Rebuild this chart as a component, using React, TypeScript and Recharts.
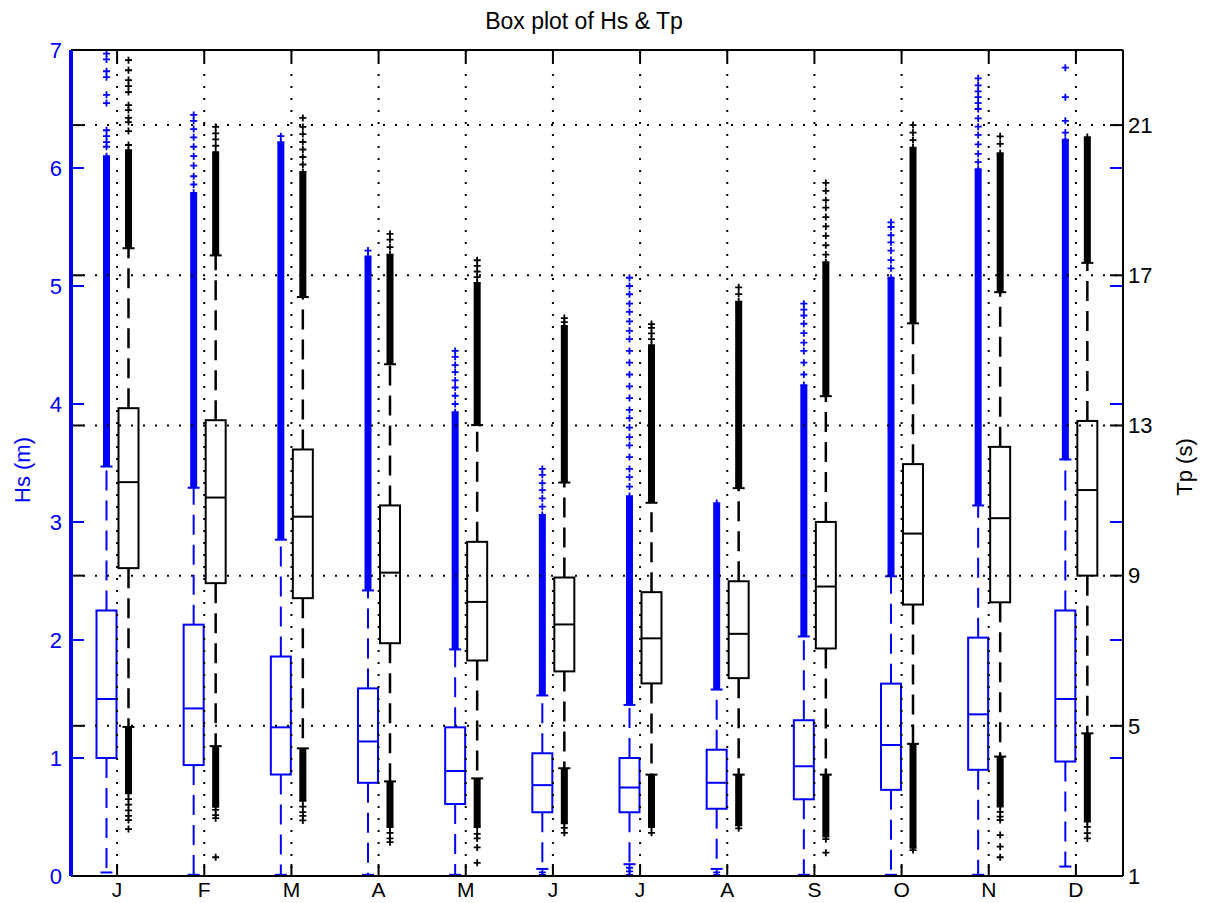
import { ComposedChart, Bar, XAxis, YAxis, ReferenceLine } from 'recharts'

const BLUE = '#0000ff'
const BLACK = '#000000'

const months = ['Jan', 'Feb', 'Mar', 'Apr', 'May', 'Jun', 'Jul', 'Aug', 'Sep', 'Oct', 'Nov', 'Dec']
const monthLetters = ['J', 'F', 'M', 'A', 'M', 'J', 'J', 'A', 'S', 'O', 'N', 'D']

const hsTicks = [0, 1, 2, 3, 4, 5, 6, 7]
const tpTicks = [1, 5, 9, 13, 17, 21]

// Hs (m) box statistics per month
const hsWhiskerLow = [0.03, 0.01, 0.01, 0.01, 0.01, 0.06, 0.1, 0.06, 0.01, 0.01, 0.01, 0.08]
const hsQ1 = [1.0, 0.94, 0.86, 0.79, 0.61, 0.54, 0.54, 0.57, 0.65, 0.73, 0.9, 0.97]
const hsMedian = [1.5, 1.42, 1.26, 1.14, 0.89, 0.77, 0.75, 0.79, 0.93, 1.11, 1.37, 1.5]
const hsQ3 = [2.25, 2.13, 1.86, 1.59, 1.26, 1.04, 1.0, 1.07, 1.32, 1.63, 2.02, 2.25]
const hsWhiskerHigh = [3.47, 3.29, 2.85, 2.42, 1.92, 1.53, 1.45, 1.58, 2.03, 2.54, 3.14, 3.53]
// outliers packed so tight they read as one solid run from the whisker up to here
const hsDenseTop = [6.1, 5.79, 6.22, 5.25, 3.93, 3.06, 3.22, 3.16, 4.16, 5.07, 5.99, 6.24]
const hsOutliersHigh = [
  [6.18, 6.22, 6.27, 6.32, 6.55, 6.62, 6.77, 6.82, 6.92, 6.97],
  [5.86, 5.93, 6.02, 6.1, 6.18, 6.26, 6.33, 6.4, 6.45],
  [6.27],
  [5.3],
  [4.0, 4.07, 4.14, 4.2, 4.27, 4.33, 4.4, 4.45],
  [3.13, 3.2, 3.27, 3.33, 3.4, 3.45],
  [3.3, 3.38, 3.45, 3.55, 3.65, 3.72, 3.8, 3.88, 3.95, 4.05, 4.15, 4.25, 4.35, 4.45, 4.55, 4.62, 4.7, 4.78, 4.85, 4.93, 5.0, 5.07],
  [],
  [4.25, 4.35, 4.45, 4.52, 4.6, 4.68, 4.75, 4.8, 4.85],
  [5.15, 5.22, 5.3, 5.37, 5.43, 5.5, 5.54],
  [6.05, 6.12, 6.2, 6.28, 6.35, 6.42, 6.5, 6.55, 6.6, 6.65, 6.7, 6.76],
  [6.3, 6.4, 6.6, 6.85],
]
const hsOutliersLow = [[], [], [], [], [], [0.01, 0.03], [0.01, 0.04, 0.07], [0.01, 0.03], [], [], [], []]

// Tp (s) box statistics per month
const tpWhiskerLow = [4.97, 4.46, 4.4, 3.52, 3.6, 3.87, 3.7, 3.7, 3.7, 4.52, 4.18, 4.8]
const tpQ1 = [9.2, 8.8, 8.4, 7.2, 6.74, 6.45, 6.13, 6.27, 7.06, 8.23, 8.29, 9.0]
const tpMedian = [11.49, 11.08, 10.57, 9.08, 8.3, 7.7, 7.33, 7.45, 8.71, 10.12, 10.53, 11.28]
const tpQ3 = [13.46, 13.14, 12.36, 10.87, 9.9, 8.95, 8.56, 8.85, 10.43, 11.97, 12.43, 13.12]
const tpWhiskerHigh = [17.72, 17.53, 16.42, 14.63, 13.01, 11.48, 10.94, 11.33, 13.78, 15.72, 16.55, 17.33]
const tpDenseTop = [20.33, 20.28, 19.75, 17.55, 16.8, 15.65, 15.14, 16.3, 17.35, 20.4, 20.25, 20.68]
const tpDenseBottom = [3.2, 2.84, 3.0, 2.3, 2.3, 2.4, 2.3, 2.35, 2.05, 1.75, 2.85, 2.45]
const tpOutliersHigh = [
  [20.47, 20.84, 21.08, 21.19, 21.4, 21.53, 21.88, 22.04, 22.2, 22.46, 22.73],
  [20.45, 20.62, 20.78, 20.95],
  [19.95, 20.15, 20.35, 20.55, 20.76, 20.95, 21.19],
  [17.75, 17.95, 18.1],
  [16.95, 17.1, 17.25, 17.4],
  [15.75, 15.86],
  [15.3, 15.45, 15.6, 15.7],
  [16.5, 16.68],
  [17.55, 17.8, 18.05, 18.3, 18.55, 18.8, 19.0, 19.25, 19.46],
  [20.6, 20.8, 21.0],
  [20.5, 20.7],
  [],
]
const tpOutliersLow = [
  [3.05, 2.9, 2.75, 2.6, 2.49, 2.25],
  [2.76, 2.62, 2.54, 1.5],
  [2.85, 2.7, 2.6, 2.48],
  [2.15, 2.0, 1.9],
  [2.12, 2.0, 1.76, 1.35],
  [2.28, 2.15],
  [2.15],
  [2.27],
  [1.98, 1.62],
  [1.69],
  [2.71, 2.58, 2.49, 2.09, 1.78, 1.5],
  [2.31, 2.14, 2.0],
]

interface BoxStats {
  lo: number[]
  q1: number[]
  med: number[]
  q3: number[]
  hi: number[]
  denseTop: number[]
  denseBottom: number[] | null
  outHigh: number[][]
  outLow: number[][]
}

const hsStats: BoxStats = {
  lo: hsWhiskerLow, q1: hsQ1, med: hsMedian, q3: hsQ3, hi: hsWhiskerHigh,
  denseTop: hsDenseTop, denseBottom: null, outHigh: hsOutliersHigh, outLow: hsOutliersLow,
}
const tpStats: BoxStats = {
  lo: tpWhiskerLow, q1: tpQ1, med: tpMedian, q3: tpQ3, hi: tpWhiskerHigh,
  denseTop: tpDenseTop, denseBottom: tpDenseBottom, outHigh: tpOutliersHigh, outLow: tpOutliersLow,
}

// each bar spans the full extent of its month, the shape draws the box inside it
const rows = months.map((month, i) => ({
  month,
  i,
  hs: [Math.min(hsWhiskerLow[i], ...hsOutliersLow[i]), Math.max(hsDenseTop[i], ...hsOutliersHigh[i])],
  tp: [Math.min(tpDenseBottom[i], ...tpOutliersLow[i]), Math.max(tpDenseTop[i], ...tpOutliersHigh[i])],
}))

const Plus = ({ cx, cy, color }: { cx: number; cy: number; color: string }) => (
  <path d={`M${cx - 3.5},${cy}H${cx + 3.5}M${cx},${cy - 3.5}V${cy + 3.5}`} stroke={color} strokeWidth={1.8} />
)

function makeBox(color: string, key: 'hs' | 'tp', s: BoxStats, lw: number) {
  return (props: any) => {
    const row = props.payload ?? props
    const i = row.i
    const [vMin, vMax] = row[key]
    const top = Math.min(props.y, props.y + props.height)
    const bottom = Math.max(props.y, props.y + props.height)
    const py = (v: number) => bottom - ((v - vMin) / (vMax - vMin)) * (bottom - top)
    const x = props.x
    const w = props.width
    const cx = x + w / 2
    const yHi = py(s.hi[i])
    const yLo = py(s.lo[i])
    const yQ1 = py(s.q1[i])
    const yQ3 = py(s.q3[i])
    const yMed = py(s.med[i])
    const yDenseTop = py(s.denseTop[i])
    const yDenseBottom = s.denseBottom ? py(s.denseBottom[i]) : yLo
    return (
      <g>
        <rect x={cx - 3.5} y={yDenseTop} width={7} height={Math.max(0, yHi - yDenseTop)} fill={color} />
        <Plus cx={cx} cy={yDenseTop} color={color} />
        {yDenseBottom > yLo && (
          <>
            <rect x={cx - 3.5} y={yLo} width={7} height={yDenseBottom - yLo} fill={color} />
            <Plus cx={cx} cy={yDenseBottom} color={color} />
          </>
        )}
        {s.outHigh[i].map((v, k) => <Plus key={`h${k}`} cx={cx} cy={py(v)} color={color} />)}
        {s.outLow[i].map((v, k) => <Plus key={`l${k}`} cx={cx} cy={py(v)} color={color} />)}
        <line x1={cx} x2={cx} y1={yQ3} y2={yHi} stroke={color} strokeWidth={lw} strokeDasharray="20 10" />
        <line x1={cx} x2={cx} y1={yQ1} y2={yLo} stroke={color} strokeWidth={lw} strokeDasharray="20 10" />
        <line x1={cx - 6} x2={cx + 6} y1={yHi} y2={yHi} stroke={color} strokeWidth={2} />
        <line x1={cx - 6} x2={cx + 6} y1={yLo} y2={yLo} stroke={color} strokeWidth={2} />
        <rect x={x + 1} y={yQ3} width={w - 2} height={yQ1 - yQ3} fill="none" stroke={color} strokeWidth={2} />
        <line x1={x + 1} x2={x + w - 1} y1={yMed} y2={yMed} stroke={color} strokeWidth={2} />
      </g>
    )
  }
}

// dotted horizontal grid at the Tp ticks, with black stubs on both frame edges
const tpGrid = (props: any) => {
  const a = Math.min(props.x1, props.x2)
  const b = Math.max(props.x1, props.x2)
  const y = props.y1
  return (
    <g>
      <line x1={a} x2={b} y1={y} y2={y} stroke={BLACK} strokeWidth={2} strokeDasharray="2 10" />
      <line x1={a} x2={a + 13} y1={y} y2={y} stroke={BLACK} strokeWidth={2} />
      <line x1={b - 13} x2={b} y1={y} y2={y} stroke={BLACK} strokeWidth={2} />
    </g>
  )
}

// blue Hs tick stubs on both frame edges
const hsStub = (props: any) => {
  const a = Math.min(props.x1, props.x2)
  const b = Math.max(props.x1, props.x2)
  const y = props.y1
  return (
    <g>
      <line x1={a} x2={a + 13} y1={y} y2={y} stroke={BLUE} strokeWidth={2} />
      <line x1={b - 13} x2={b} y1={y} y2={y} stroke={BLUE} strokeWidth={2} />
    </g>
  )
}

const monthGrid = (props: any) => {
  const t = Math.min(props.y1, props.y2)
  const btm = Math.max(props.y1, props.y2)
  const x = props.x1
  return (
    <g>
      <line x1={x} x2={x} y1={t} y2={btm} stroke={BLACK} strokeWidth={2} strokeDasharray="2 10" />
      <line x1={x} x2={x} y1={t} y2={t + 12} stroke={BLACK} strokeWidth={2} />
      <line x1={x} x2={x} y1={btm - 12} y2={btm} stroke={BLACK} strokeWidth={2} />
    </g>
  )
}

export default function App() {
  const font = "'Liberation Sans', Arial, Helvetica, sans-serif"
  return (
    <div style={{ position: 'absolute', left: 0, top: 0, width: 1211, height: 903, background: '#fff', fontFamily: font }}>
      <ComposedChart
        width={1211}
        height={903}
        data={rows}
        margin={{ top: 50, right: 28, bottom: 0, left: 11 }}
        barGap={0}
      >
        <XAxis
          dataKey="month"
          interval={0}
          height={27}
          padding={{ left: 2.5, right: 3.5 }}
          tickLine={false}
          tickSize={0}
          tickMargin={6}
          axisLine={{ stroke: BLACK, strokeWidth: 2 }}
          tick={{ fill: BLACK, fontSize: 21 }}
          tickFormatter={(_v: string, idx: number) => monthLetters[idx]}
        />
        <YAxis
          yAxisId="left"
          orientation="left"
          width={60}
          domain={[0, 7]}
          ticks={hsTicks}
          interval={0}
          allowDataOverflow
          tickLine={false}
          tickSize={0}
          tickMargin={9}
          axisLine={{ stroke: BLUE, strokeWidth: 4 }}
          tick={{ fill: BLUE, fontSize: 22 }}
        />
        <YAxis
          yAxisId="right"
          orientation="right"
          width={60}
          domain={[1, 23]}
          ticks={tpTicks}
          interval={0}
          allowDataOverflow
          tickLine={false}
          tickSize={0}
          tickMargin={5}
          axisLine={{ stroke: BLACK, strokeWidth: 2 }}
          tick={{ fill: BLACK, fontSize: 22 }}
        />

        {months.map((m) => (
          <ReferenceLine key={m} x={m} yAxisId="left" shape={monthGrid} />
        ))}
        {tpTicks.slice(1).map((t) => (
          <ReferenceLine key={`tp${t}`} y={t} yAxisId="right" shape={tpGrid} />
        ))}
        {hsTicks.slice(1, 7).map((h) => (
          <ReferenceLine key={`hs${h}`} y={h} yAxisId="left" shape={hsStub} />
        ))}
        <ReferenceLine y={7} yAxisId="left" stroke={BLACK} strokeWidth={2} ifOverflow="visible" />

        <Bar
          yAxisId="left"
          dataKey="hs"
          barSize={22}
          isAnimationActive={false}
          shape={makeBox(BLUE, 'hs', hsStats, 2)}
        />
        <Bar
          yAxisId="right"
          dataKey="tp"
          barSize={22}
          isAnimationActive={false}
          shape={makeBox(BLACK, 'tp', tpStats, 2.5)}
        />
      </ComposedChart>

      <svg
        width={1211}
        height={903}
        style={{ position: 'absolute', left: 0, top: 0, pointerEvents: 'none', fontFamily: font }}
      >
        <text x={584} y={29} textAnchor="middle" fontSize={23} fill={BLACK}>
          Box plot of Hs &amp; Tp
        </text>
        <text
          x={22}
          y={470}
          transform="rotate(-90 22 470)"
          textAnchor="middle"
          dominantBaseline="central"
          fontSize={22}
          fill={BLUE}
        >
          Hs (m)
        </text>
        <text
          x={1184}
          y={467}
          transform="rotate(-90 1184 467)"
          textAnchor="middle"
          dominantBaseline="central"
          fontSize={22}
          fill={BLACK}
        >
          Tp (s)
        </text>
      </svg>
    </div>
  )
}
